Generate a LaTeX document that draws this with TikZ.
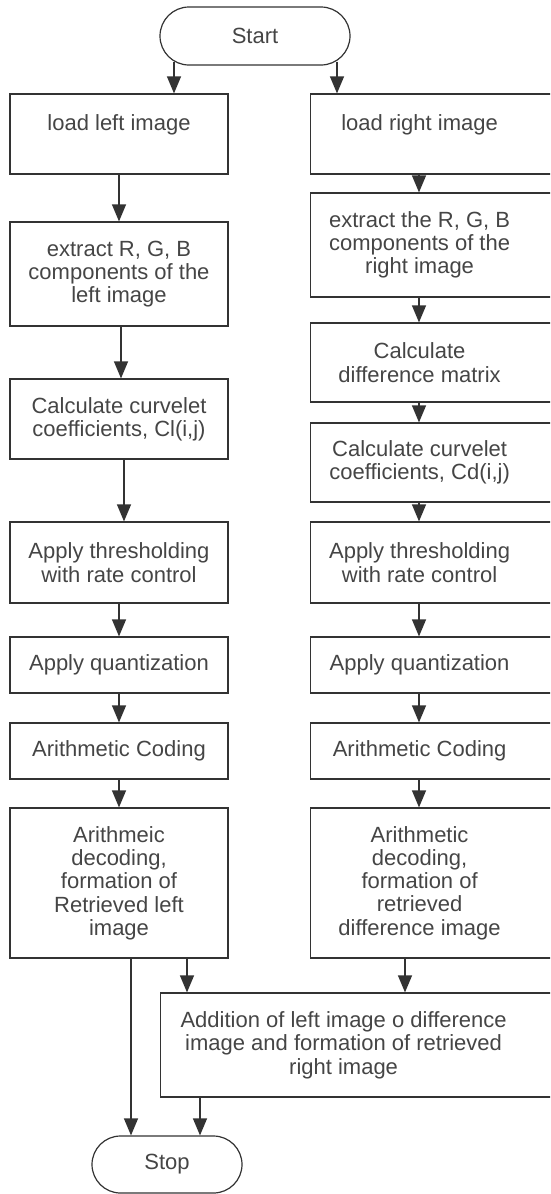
\documentclass[tikz,border=0pt]{standalone}
\usepackage{fontspec}
\setmainfont{Liberation Sans}
\usetikzlibrary{arrows.meta,shapes.misc}
\definecolor{ln}{HTML}{333333}
\definecolor{tx}{HTML}{454545}
\newcommand{\rtxt}[2]{\parbox{218pt}{\centering #1}\hspace*{#2}}
\begin{document}
\begin{tikzpicture}[x=1pt,y=-1pt,
  every node/.style={text=tx,font=\fontsize{22}{23.3}\selectfont},
  lbox/.style={draw=ln,line width=1.2pt,rectangle,inner sep=0pt,align=center,minimum width=218pt},
  rbox/.style={draw=ln,line width=1.2pt,rectangle,inner sep=0pt,anchor=west,minimum width=245pt},
  term/.style={draw=ln,line width=1.2pt,rounded rectangle,inner sep=0pt},
  arr/.style={draw=ln,line width=1.2pt,-{Triangle[width=14pt,length=17pt]}}]
\useasboundingbox (0,0) rectangle (550,1194);
\clip (0,0) rectangle (550,1194);
% terminals
\node[term,minimum width=190pt,minimum height=58pt] (start) at (255,36) {Start};
\node[term,minimum width=150pt,minimum height=57pt] (stop) at (167,1164.5) {Stop};
% left column
\node[lbox,minimum height=80pt] (l1) at (119,134) {load left image\\\mbox{}};
\node[lbox,minimum height=104pt] (l2) at (119,274) {extract R, G, B\\components of the\\left image};
\node[lbox,minimum height=80pt] (l3) at (119,419) {Calculate curvelet\\coefficients, Cl(i,j)};
\node[lbox,minimum height=81pt] (l4) at (119,562.5) {Apply thresholding\\with rate control};
\node[lbox,minimum height=56pt] (l5) at (119,665) {Apply quantization};
\node[lbox,minimum height=56pt] (l6) at (119,751) {Arithmetic Coding};
\node[lbox,minimum height=150pt] (l7) at (119,883) {Arithmeic\\decoding,\\formation of\\Retrieved left\\image};
% right column
\node[rbox,minimum height=80pt] (r1) at (310,134) {\rtxt{load right image\\\mbox{}}{27pt}};
\node[rbox,minimum height=104pt] (r2) at (310,245) {\rtxt{extract the R, G, B\\components of the\\right image}{27pt}};
\node[rbox,minimum height=79pt] (r3) at (310,362.5) {\rtxt{Calculate\\difference matrix}{27pt}};
\node[rbox,minimum height=79pt] (r4) at (310,462.5) {\rtxt{Calculate curvelet\\coefficients, Cd(i,j)}{27pt}};
\node[rbox,minimum height=81pt] (r5) at (310,562.5) {\rtxt{Apply thresholding\\with rate control}{27pt}};
\node[rbox,minimum height=56pt] (r6) at (310,665) {\rtxt{Apply quantization}{27pt}};
\node[rbox,minimum height=56pt] (r7) at (310,751) {\rtxt{Arithmetic Coding}{27pt}};
\node[rbox,minimum height=150pt] (r8) at (310,883) {\rtxt{Arithmetic\\decoding,\\formation of\\retrieved\\difference image}{27pt}};
% addition
\node[rbox,minimum width=395pt,minimum height=104pt] (add) at (160,1045)
  {\parbox{366pt}{\centering Addition of left image o difference\\image and formation of retrieved\\right image}\hspace*{29pt}};
% connectors
\draw[arr] ([shift={(-81pt,4pt)}]start.south) -- ([xshift=-81pt]start.south |- l1.north);
\draw[arr] ([shift={(82pt,4pt)}]start.south) -- ([xshift=82pt]start.south |- r1.north);
\draw[arr] (l1) -- (l2);
\draw[arr] ([xshift=2pt]l2.south) -- ([xshift=2pt]l3.north);
\draw[arr] ([xshift=5pt]l3.south) -- ([xshift=5pt]l4.north);
\draw[arr] (l4) -- (l5);
\draw[arr] (l5) -- (l6);
\draw[arr] (l6) -- (l7);
\draw[arr] ([xshift=109pt]r1.south west) -- ([xshift=109pt]r2.north west);
\draw[arr] ([xshift=109pt]r2.south west) -- ([xshift=109pt]r3.north west);
\draw[arr] ([xshift=109pt]r3.south west) -- ([xshift=109pt]r4.north west);
\draw[arr] ([xshift=109pt]r4.south west) -- ([xshift=109pt]r5.north west);
\draw[arr] ([xshift=109pt]r5.south west) -- ([xshift=109pt]r6.north west);
\draw[arr] ([xshift=109pt]r6.south west) -- ([xshift=109pt]r7.north west);
\draw[arr] ([xshift=109pt]r7.south west) -- ([xshift=109pt]r8.north west);
\draw[arr] ([xshift=68pt]l7.south) -- ([xshift=68pt]l7.south |- add.north);
\draw[arr] ([xshift=95pt]r8.south west) -- ([xshift=95pt]r8.south west |- add.north);
\draw[arr] ([xshift=12pt]l7.south) -- ([xshift=12pt]l7.south |- stop.north);
\draw[arr] ([xshift=40pt]add.south west) -- ([xshift=40pt]add.south west |- stop.north);
\end{tikzpicture}
\end{document}
